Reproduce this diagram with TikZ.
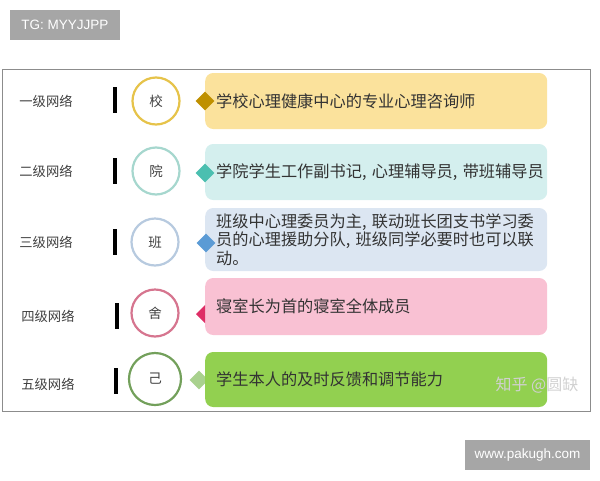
\documentclass[tikz,border=0pt]{standalone}
\usepackage{fontspec}
\setmainfont{Noto Sans CJK SC}
\newfontfamily\latinfont{Liberation Sans}
\usetikzlibrary{shapes.geometric}

\definecolor{tagGray}{HTML}{A6A6A6}
\definecolor{frameGray}{HTML}{8C8C8C}
\definecolor{ringA}{HTML}{E6C34A}
\definecolor{ringB}{HTML}{A6D7CE}
\definecolor{ringC}{HTML}{B7CADF}
\definecolor{ringD}{HTML}{D6758F}
\definecolor{ringE}{HTML}{73A05B}
\definecolor{cardA}{HTML}{FBE29C}
\definecolor{cardB}{HTML}{D4EFEE}
\definecolor{cardC}{HTML}{DCE6F2}
\definecolor{cardD}{HTML}{F9C1D3}
\definecolor{cardE}{HTML}{92D050}
\definecolor{gemA}{HTML}{BF9000}
\definecolor{gemB}{HTML}{4BBFB0}
\definecolor{gemC}{HTML}{5B9BD5}
\definecolor{gemD}{HTML}{DE2E66}
\definecolor{gemE}{HTML}{A9D18E}

\begin{document}
\begin{tikzpicture}[x=1pt,y=-1pt,
    lvl/.style={font=\fontsize{13.3}{15}\selectfont, text=black!75},
    ring/.style={circle, draw, line width=2.2pt, minimum size=47pt, inner sep=0pt, fill=white, font=\fontsize{13.5}{15}\selectfont, text=black!75},
    bar/.style={fill=black, minimum width=4pt, minimum height=26pt, inner sep=0pt},
    card/.style={anchor=west, rounded corners=8pt, text width=320pt, inner xsep=11pt, minimum height=56pt, align=left, font=\fontsize{16.2}{18.4}\selectfont, text=black!80},
    gem/.style={diamond, minimum size=19pt, inner sep=0pt},
    tag/.style={fill=tagGray, text=white, minimum height=30pt, inner sep=0pt, font=\latinfont\fontsize{13.5}{15}\selectfont}]

    \useasboundingbox (0,0) rectangle (600,480);

    \node[tag, minimum width=110pt] (tg) at (65,25) {TG: MYYJJPP};
    \node[tag, minimum width=125pt] (site) at (527.5,455) {www.pakugh.com};

    \draw[frameGray, line width=1pt] (2,69) rectangle (590,411);

    \node[lvl] (l1) at (46,101) {一级网络};
    \node[bar] (b1) at (115,100) {};
    \node[ring, draw=ringA] (c1) at (156,101) {校};
    \node[card, fill=cardA] (t1) at (205,101) {学校心理健康中心的专业心理咨询师};
    \node[gem, fill=gemA] (d1) at (205,101) {};

    \node[lvl] (l2) at (46,171) {二级网络};
    \node[bar] (b2) at (115,171) {};
    \node[ring, draw=ringB] (c2) at (156,171) {院};
    \node[card, fill=cardB] (t2) at (205,172) {学院学生工作副书记,~心理辅导员,~带班辅导员};
    \node[gem, fill=gemB] (d2) at (205,173) {};

    \node[lvl] (l3) at (46,242) {三级网络};
    \node[bar] (b3) at (115,242) {};
    \node[ring, draw=ringC] (c3) at (155,242) {班};
    \node[card, fill=cardC, minimum height=63pt] (t3) at (205,239.5) {班级中心理委员为主,~联动班长团支书学习委\\员的心理援助分队,~班级同学必要时也可以联\\动。};
    \node[gem, fill=gemC] (d3) at (206,243) {};

    \node[lvl] (l4) at (48,316) {四级网络};
    \node[bar] (b4) at (117,316) {};
    \node[ring, draw=ringD] (c4) at (155,313) {舍};
    \node[card, fill=cardD, minimum height=57pt] (t4) at (205,306.5) {寝室长为首的寝室全体成员};
    % half of a diamond, the rest is under the card
    \fill[gemD] (196,314) -- (205,305) -- (205,323) -- cycle;

    \node[lvl] (l5) at (48,384) {五级网络};
    \node[bar] (b5) at (116,381) {};
    \node[ring, draw=ringE, minimum size=52pt] (c5) at (155,379) {己};
    \node[gem, fill=gemE] (d5) at (199,380) {};
    \node[card, fill=cardE, minimum height=55pt] (t5) at (205,379.5) {学生本人的及时反馈和调节能力};

    \node[font=\fontsize{16}{18}\selectfont, text=white!82!black] (zh) at (537,385) {知乎 @圆缺};

\end{tikzpicture}
\end{document}
